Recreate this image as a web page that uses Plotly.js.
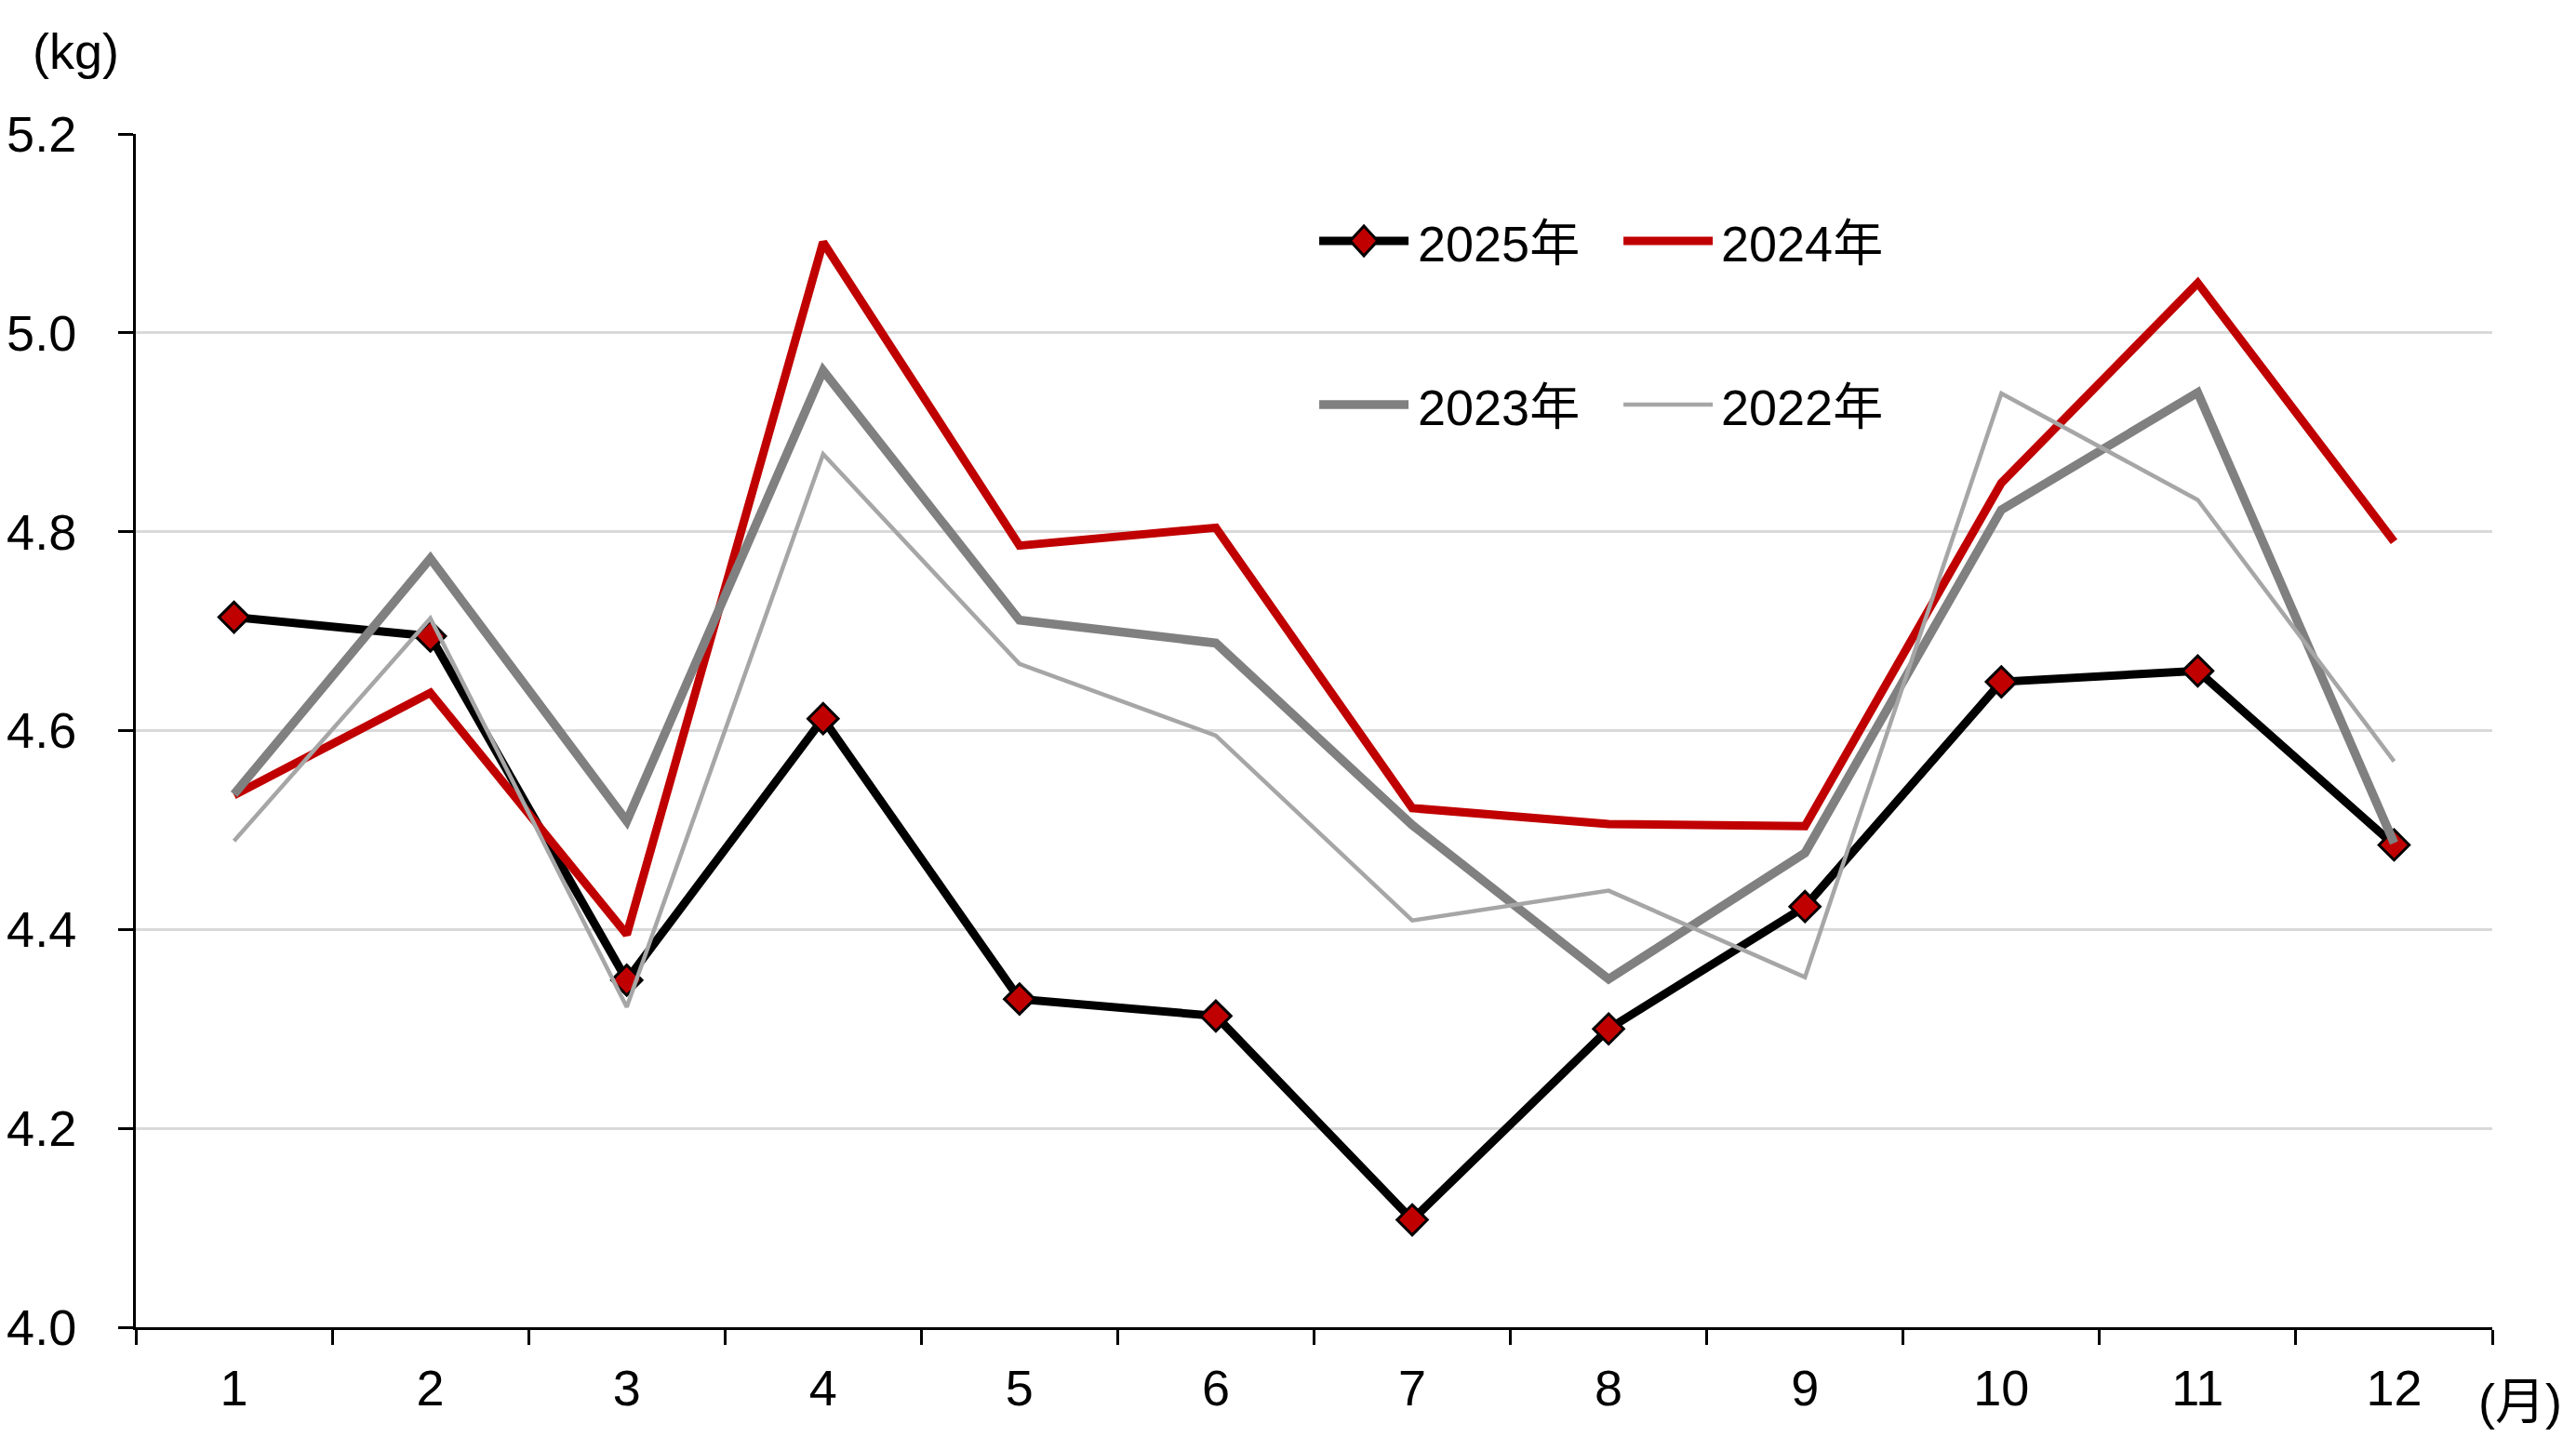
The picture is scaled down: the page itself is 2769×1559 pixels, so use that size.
<!DOCTYPE html>
<html>
<head>
<meta charset="utf-8">
<script src="https://cdn.plot.ly/plotly-3.0.1.min.js"></script>
<style>html,body{margin:0;padding:0;background:#fff;}#chart{width:2769px;height:1559px;}</style>
</head>
<body>
<div id="chart"></div>
<script>
const months = ["1","2","3","4","5","6","7","8","9","10","11","12"];
const y2025 = [4.714, 4.695, 4.349, 4.612, 4.330, 4.313, 4.108, 4.300, 4.423, 4.649, 4.660, 4.485];
const y2024 = [4.535, 4.638, 4.395, 5.091, 4.786, 4.804, 4.522, 4.506, 4.504, 4.849, 5.050, 4.790];
const y2023 = [4.536, 4.773, 4.509, 4.962, 4.711, 4.688, 4.505, 4.350, 4.477, 4.822, 4.940, 4.487];
const y2022 = [4.489, 4.713, 4.322, 4.878, 4.667, 4.595, 4.409, 4.439, 4.352, 4.939, 4.832, 4.569];
const seriesNames = ["2025年", "2024年", "2023年", "2022年"];
const yTicks = [4.0, 4.2, 4.4, 4.6, 4.8, 5.0, 5.2];

const FONT = "Liberation Sans, Arial, Noto Sans CJK JP, sans-serif";
const FS = 54;
const RED = "#c00000";

const lineStyles = [
  {color: "#000000", width: 9}, {color: RED, width: 9},
  {color: "#808080", width: 9.5}, {color: "#a6a6a6", width: 4.5}
];
const seriesData = [y2025, y2024, y2023, y2022];

const traces = seriesData.map((ys, i) => ({
  x: months, y: ys, name: seriesNames[i], mode: "lines",
  line: lineStyles[i], showlegend: false, hoverinfo: "skip"
}));
traces[0].mode = "lines+markers";
traces[0].marker = {symbol: "diamond", size: 25, color: RED, line: {color: "#000000", width: 3}};

// legend drawn in paper coordinates
const legendCols = [[0.5022, 0.5401, 0.5432], [0.6313, 0.6692, 0.6719]];
const legendRows = [0.9104, 0.7732];
const shapes = [];
const annotations = [];
seriesNames.forEach((nm, i) => {
  const c = legendCols[i % 2], r = legendRows[Math.floor(i / 2)];
  shapes.push({type: "line", xref: "paper", yref: "paper", x0: c[0], x1: c[1], y0: r, y1: r,
    line: lineStyles[i], layer: "above"});
  annotations.push({xref: "paper", yref: "paper", x: c[2], y: r - 0.002, xanchor: "left", yanchor: "middle",
    text: nm, showarrow: false, font: {family: FONT, size: FS, color: "#000"}});
  if (i === 0) {
    const cx = (c[0] + c[1]) / 2, hx = 0.0058, hy = 0.0125;
    shapes.push({type: "path", xref: "paper", yref: "paper",
      path: `M ${cx - hx} ${r} L ${cx} ${r + hy} L ${cx + hx} ${r} L ${cx} ${r - hy} Z`,
      fillcolor: RED, line: {color: "#000", width: 3}, layer: "above"});
  }
});
annotations.push({xref: "paper", yref: "paper", x: -0.0253, y: 1.069, xanchor: "center", yanchor: "middle",
  text: "(kg)", showarrow: false, font: {family: FONT, size: FS, color: "#000"}});
annotations.push({xref: "paper", yref: "paper", x: 1.0118, y: -0.062, xanchor: "center", yanchor: "middle",
  text: "(月)", showarrow: false, font: {family: FONT, size: FS, color: "#000"}});

const layout = {
  width: 2769, height: 1559, autosize: false,
  margin: {l: 146, r: 90, t: 144, b: 132, pad: 0},
  paper_bgcolor: "#ffffff", plot_bgcolor: "#ffffff",
  font: {family: FONT, size: FS, color: "#000"},
  showlegend: false,
  xaxis: {type: "category", range: [-0.5, 11.5], tickson: "boundaries",
    showgrid: false, zeroline: false, showline: true, linecolor: "#000", linewidth: 3,
    ticks: "outside", ticklen: 16, tickwidth: 3, tickcolor: "#000",
    ticklabelstandoff: 16, tickfont: {family: FONT, size: FS, color: "#000"}, fixedrange: true},
  yaxis: {range: [4.0, 5.2], tickvals: yTicks, tickformat: ".1f",
    showgrid: true, gridcolor: "#d9d9d9", gridwidth: 3, zeroline: false,
    showline: true, linecolor: "#000", linewidth: 3,
    ticks: "outside", ticklen: 16, tickwidth: 3, tickcolor: "#000",
    ticklabelstandoff: 34, tickfont: {family: FONT, size: FS, color: "#000"}, fixedrange: true},
  shapes: shapes,
  annotations: annotations
};

Plotly.newPlot("chart", traces, layout, {staticPlot: true, displayModeBar: false});
</script>
</body>
</html>
